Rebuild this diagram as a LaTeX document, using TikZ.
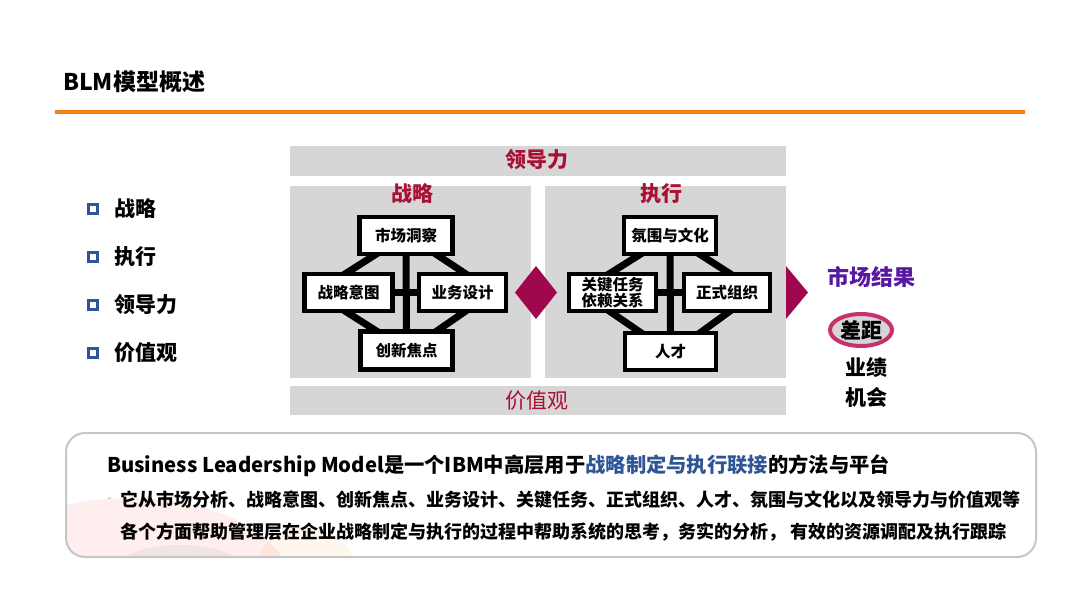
\documentclass[tikz,border=0pt]{standalone}
\usepackage{fontspec}
\setmainfont{Noto Sans CJK SC}
\usetikzlibrary{positioning,calc,shapes.geometric}
\definecolor{maroon}{RGB}{168,16,52}
\definecolor{plum}{RGB}{160,8,78}
\definecolor{bluebox}{RGB}{47,85,151}
\definecolor{purp}{RGB}{88,24,160}
\definecolor{panelgray}{RGB}{214,214,214}
\definecolor{lineorange}{RGB}{240,128,32}
\definecolor{ringred}{RGB}{200,48,110}
\newcommand\setfs[1]{\fontsize{#1}{#1}\selectfont}
\pgfdeclarelayer{bg}
\pgfdeclarelayer{links}
\pgfsetlayers{bg,links,main}
\begin{document}
\begin{tikzpicture}[x=1pt,y=-1pt,
	blk/.style={draw,line width=4.5pt,fill=white,inner sep=0pt,font=\bfseries\setfs{15.5},minimum height=37pt},
	lnk/.style={line width=7pt,shorten <=-6pt,shorten >=-6pt},
	hd/.style={text=maroon,font=\bfseries\setfs{21}},
	sq/.style={draw=bluebox,line width=2.6pt,minimum size=9pt,inner sep=0pt},
	item/.style={font=\bfseries\setfs{21},inner sep=0pt,anchor=west},
	res/.style={font=\bfseries\setfs{21},inner sep=0pt},
	txt/.style={font=\bfseries\setfs{18},inner sep=0pt,anchor=west}]
	\useasboundingbox (0,0) rectangle (1080,608);
	\begin{pgfonlayer}{bg}
		\fill[white] (0,0) rectangle (1080,608);
		\fill[panelgray] (290,146) rectangle (786,176);
		\fill[panelgray] (290,386) rectangle (786,415);
		\fill[panelgray] (290,186) rectangle (531,378);
		\fill[panelgray] (545,186) rectangle (786,378);
		\begin{scope}
			\clip[rounded corners=19pt] (66,433) rectangle (1036,557);
			\fill[red!60,opacity=0.11] (130,585) ellipse [x radius=160pt,y radius=87pt];
			\fill[orange,opacity=0.07] (305,572) ellipse [x radius=50pt,y radius=45pt];
			\fill[gray,opacity=0.09] (180,575) ellipse [x radius=70pt,y radius=30pt];
		\end{scope}
	\end{pgfonlayer}
	\node[anchor=west,inner sep=0pt,font=\bfseries\setfs{23}] (title) at (63,82) {BLM模型概述};
	\draw[lineorange,line width=4pt] (55,112) -- (1025,112);
	\foreach \txt [count=\i] in {战略,执行,领导力,价值观}{
		\node[sq] (b\i) at (93,{161+48*\i}) {};
		\node[item,right=15pt of b\i] (t\i) {\txt};
	}
	\node[hd] (ldl) at (537,160) {领导力};
	\node[text=maroon,font=\setfs{21}] (jzg) at (537,401) {价值观};
	\node[hd] (zl0) at (412,194) {战略};
	\node[hd] (zx0) at (661,194) {执行};
	\node[blk,minimum width=93pt] (mk) at (406,235.5) {市场洞察};
	\node[blk,minimum width=88pt] (zl) at (348.5,292.5) {战略意图};
	\node[blk,minimum width=87pt] (yw) at (462.5,292.5) {业务设计};
	\node[blk,minimum width=92pt,minimum height=38pt] (cx) at (406.5,350.5) {创新焦点};
	\node[blk,minimum width=92pt] (fw) at (670,235.5) {氛围与文化};
	\node[blk,minimum width=87pt,align=left,font=\bfseries\fontsize{15.5}{16}\selectfont] (gj) at (612.5,292.5) {关键任务\\依赖关系};
	\node[blk,minimum width=86pt] (zs) at (727,292.5) {正式组织};
	\node[blk,minimum width=91pt] (rc) at (670.5,351.5) {人才};
	\begin{pgfonlayer}{links}
		\foreach \t/\l/\r/\b in {mk/zl/yw/cx,fw/gj/zs/rc}{
			\draw[lnk] (\t.center) -- (\b.center);
			\draw[lnk] (\l.center) -- (\r.center);
			\draw[lnk] ($(\t.south)!0.68!(\t.south west)$) -- (\l.north);
			\draw[lnk] ($(\t.south)!0.68!(\t.south east)$) -- (\r.north);
			\draw[lnk] ($(\b.north)!0.68!(\b.north west)$) -- (\l.south);
			\draw[lnk] ($(\b.north)!0.68!(\b.north east)$) -- (\r.south);
		}
	\end{pgfonlayer}
	\fill[plum] (515,292.5) -- (536,266) -- (557,292.5) -- (536,319) -- cycle;
	\fill[plum] (786,266) -- (808,292.5) -- (786,319) -- cycle;
	\node[res,text=purp,font=\bfseries\setfs{22}] (sc) at (871,277) {市场结果};
	\node[res,ellipse,draw=ringred,fill=panelgray,line width=4pt,minimum width=62pt,minimum height=32pt] (cj) at (861,330) {差距};
	\node[res] (yj) at (866,367) {业绩};
	\node[res] (jh) at (866,397) {机会};
	\draw[gray!45,line width=2pt,rounded corners=19pt] (66,433) rectangle (1036,557);
	\node[txt,font=\bfseries\setfs{20.3}] (l1) at (107,466) {Business Leadership Model是一个IBM中高层用于{\color{bluebox}战略制定与执行联接}的方法与平台};
	\node[anchor=west,inner sep=0pt,text=gray!60,font=\setfs{14}] (dash) at (107,500) {-};
	\node[txt] (l2) at (120,500) {它从市场分析、战略意图、创新焦点、业务设计、关键任务、正式组织、人才、氛围与文化以及领导力与价值观等};
	\node[txt] (l3) at (120,532) {各个方面帮助管理层在企业战略制定与执行的过程中帮助系统的思考，务实的分析， 有效的资源调配及执行跟踪};
\end{tikzpicture}
\end{document}
